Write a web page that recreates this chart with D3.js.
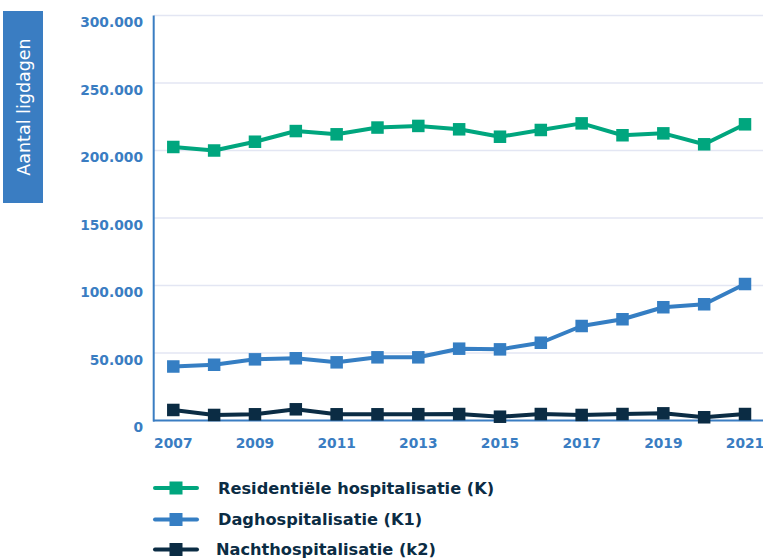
<!DOCTYPE html>
<html>
<head>
<meta charset="utf-8">
<script src="https://cdn.jsdelivr.net/npm/d3@7"></script>
<style>
  html, body { margin: 0; padding: 0; background: #fff; }
  svg { display: block; }
</style>
</head>
<body>
<svg id="chart" width="763" height="558"></svg>
<script>
const years = [2007,2008,2009,2010,2011,2012,2013,2014,2015,2016,2017,2018,2019,2020,2021];
const residentieel = [202600,200000,206500,214400,212000,217000,218200,215700,210200,215200,220100,211300,212700,204600,219400];
const daghospitalisatie = [40000,41300,45300,46100,43100,46800,46800,53200,52700,57600,70000,75000,83900,86100,101100];
const nachthospitalisatie = [7800,4100,4600,8300,4600,4600,4700,4800,2800,4800,4100,4800,5300,2400,4800];
const seriesNames = ["Residentiële hospitalisatie (K)", "Daghospitalisatie (K1)", "Nachthospitalisatie (k2)"];
const seriesColors = ["#00A67E", "#357EC3", "#0B2C44"];
const yTicks = [0,50000,100000,150000,200000,250000,300000];
const xTicks = [2007,2009,2011,2013,2015,2017,2019,2021];
const yAxisTitle = "Aantal ligdagen";

const svg = d3.select("#chart");
const x = d3.scaleLinear().domain([2007, 2021]).range([173.3, 745]);
const y = d3.scaleLinear().domain([0, 300000]).range([420.5, 15.5]);
const axisBlue = "#3A7DC2";
const fmt = v => v === 0 ? "0" : d3.format(",")(v).replace(/,/g, ".");

// gridlines
svg.append("g").selectAll("line").data(yTicks.filter(d => d > 0)).join("line")
  .attr("x1", 154).attr("x2", 763)
  .attr("y1", d => y(d)).attr("y2", d => y(d))
  .attr("stroke", "#E3E6F3").attr("stroke-width", 1.6);

// axes lines
svg.append("line").attr("x1", 153.7).attr("x2", 153.7).attr("y1", y(300000)).attr("y2", y(0) + 1)
  .attr("stroke", axisBlue).attr("stroke-width", 2);
svg.append("line").attr("x1", 153).attr("x2", 763).attr("y1", y(0)).attr("y2", y(0))
  .attr("stroke", axisBlue).attr("stroke-width", 2);

// y tick labels
svg.append("g").selectAll("text").data(yTicks).join("text")
  .attr("x", 143).attr("y", d => y(d) + 11.5)
  .attr("text-anchor", "end")
  .attr("font-family", "DejaVu Sans")
  .attr("font-weight", "bold")
  .attr("font-size", 13.8)
  .attr("fill", axisBlue)
  .text(fmt);

// x tick labels
svg.append("g").selectAll("text").data(xTicks).join("text")
  .attr("x", d => x(d)).attr("y", 448)
  .attr("text-anchor", "middle")
  .attr("font-family", "DejaVu Sans")
  .attr("font-weight", "bold")
  .attr("font-size", 13.8)
  .attr("fill", axisBlue)
  .text(d => d);

// y axis title box
svg.append("rect").attr("x", 3).attr("y", 11).attr("width", 40).attr("height", 192).attr("fill", axisBlue);
svg.append("text")
  .attr("transform", "translate(29.5,107) rotate(-90)")
  .attr("text-anchor", "middle")
  .attr("font-family", "DejaVu Sans")
  .attr("font-size", 17.5)
  .attr("fill", "#fff")
  .text(yAxisTitle);

// series
const allSeries = [residentieel, daghospitalisatie, nachthospitalisatie];
const line = d3.line().x((d, i) => x(years[i])).y(d => y(d));
const ms = 12.5;
allSeries.forEach((vals, si) => {
  const g = svg.append("g");
  g.append("path").datum(vals).attr("d", line)
    .attr("fill", "none").attr("stroke", seriesColors[si]).attr("stroke-width", 4)
    .attr("stroke-linejoin", "round");
  g.selectAll("rect").data(vals).join("rect")
    .attr("x", (d, i) => x(years[i]) - ms / 2)
    .attr("y", d => y(d) - ms / 2)
    .attr("width", ms).attr("height", ms)
    .attr("fill", seriesColors[si]);
});

// legend
const legendY = [488, 519.5, 549.5];
const lg = svg.append("g");
seriesNames.forEach((name, i) => {
  const cy = legendY[i];
  lg.append("line").attr("x1", 155).attr("x2", 197).attr("y1", cy).attr("y2", cy)
    .attr("stroke", seriesColors[i]).attr("stroke-width", 4).attr("stroke-linecap", "round");
  lg.append("rect").attr("x", 176 - 6.5).attr("y", cy - 6.5).attr("width", 13).attr("height", 13)
    .attr("fill", seriesColors[i]);
  lg.append("text").attr("x", i === 2 ? 216 : 218).attr("y", cy + 5.5)
    .attr("font-family", "DejaVu Sans")
    .attr("font-weight", "bold")
    .attr("font-size", 16.2)
    .attr("fill", "#0B2C44")
    .text(name);
});
</script>
</body>
</html>
